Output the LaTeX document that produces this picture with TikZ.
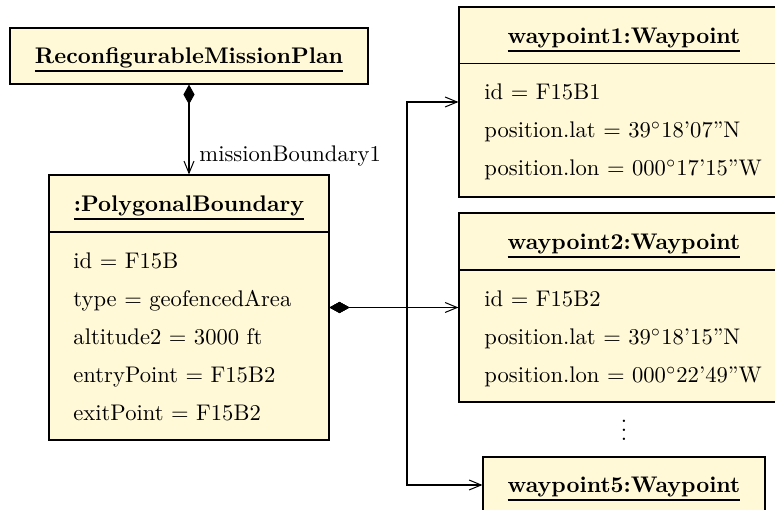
\documentclass[tikz,border=0pt]{standalone}
\usetikzlibrary{arrows.meta,fit}

\definecolor{objfill}{RGB}{255,249,215}

% bold, underlined object name
\newcommand{\objname}[1]{\setbox0=\hbox{\bfseries #1}\vtop{\hbox{\copy0}\kern0.7pt\hrule height 0.9pt}}

\tikzset{
  objbox/.style={draw=black, fill=objfill, line width=0.5pt, inner sep=0pt},
  objtitle/.style={anchor=base, inner sep=0pt},
  attr/.style={anchor=base west, inner sep=0pt},
  sep/.style={line width=0.5pt},
  comp/.style={line width=0.45pt, {Diamond[length=8.8pt,width=4.9pt]}-{Straight Barb[length=5.3pt,width=4.4pt]}},
}

\begin{document}
\begin{tikzpicture}[x=0.4425pt, y=-0.4425pt]
\useasboundingbox (0,0) rectangle (775,510);
\clip (0,0) rectangle (775,510);

% mission plan
\node[objbox, fit={(10,28) (368,84)}] (rmp) {};
\node[objtitle] (rmpT) at (189,64) {\objname{ReconfigurableMissionPlan}};

% polygonal boundary
\node[objbox, fit={(49,175) (329,440)}] (pb) {};
\draw[sep] (49,232) -- (329,232);
\node[objtitle] (pbT) at (189,212) {\objname{:PolygonalBoundary}};
\node[attr] (pb1) at (73,269) {id $=$ F15B};
\node[attr] (pb2) at (73,307) {type $=$ geofencedArea};
\node[attr] (pb3) at (73,345) {altitude2 $=$ 3000 ft};
\node[attr] (pb4) at (73,383) {entryPoint $=$ F15B2};
\node[attr] (pb5) at (73,421) {exitPoint $=$ F15B2};

% waypoint 1
\node[objbox, fit={(459,7) (789,197)}] (w1) {};
\draw[sep] (459,63.5) -- (789,63.5);
\node[objtitle] (w1T) at (624,44) {\objname{waypoint1:Waypoint}};
\node[attr] (w1a) at (484,100) {id $=$ F15B1};
\node[attr] (w1b) at (484,138) {position.lat $=$ 39$^\circ$18'07''N};
\node[attr] (w1c) at (484,176) {position.lon $=$ 000$^\circ$17'15''W};

% waypoint 2
\node[objbox, fit={(459,213) (789,402)}] (w2) {};
\draw[sep] (459,270) -- (789,270);
\node[objtitle] (w2T) at (624,250) {\objname{waypoint2:Waypoint}};
\node[attr] (w2a) at (484,306.5) {id $=$ F15B2};
\node[attr] (w2b) at (484,344.5) {position.lat $=$ 39$^\circ$18'15''N};
\node[attr] (w2c) at (484,382.5) {position.lon $=$ 000$^\circ$22'49''W};

\node[anchor=base, inner sep=0pt] (more) at (624,441) {$\vdots$};

% waypoint 5
\node[objbox, fit={(483,457) (765,513)}] (w5) {};
\node[objtitle] (w5T) at (624,493) {\objname{waypoint5:Waypoint}};

% associations
\draw[comp] (rmp.south) -- (pb.north);
\node[anchor=base west, inner sep=0pt] (mbLabel) at (199,162) {missionBoundary1};

\coordinate (bus) at (407,0);
\draw[comp] (pb.east) -- (w2.west);
\draw[comp] (pb.east) -- (bus |- pb.east) |- (w1.west);
\draw[comp] (pb.east) -- (bus |- pb.east) |- (w5.west);
\end{tikzpicture}
\end{document}
